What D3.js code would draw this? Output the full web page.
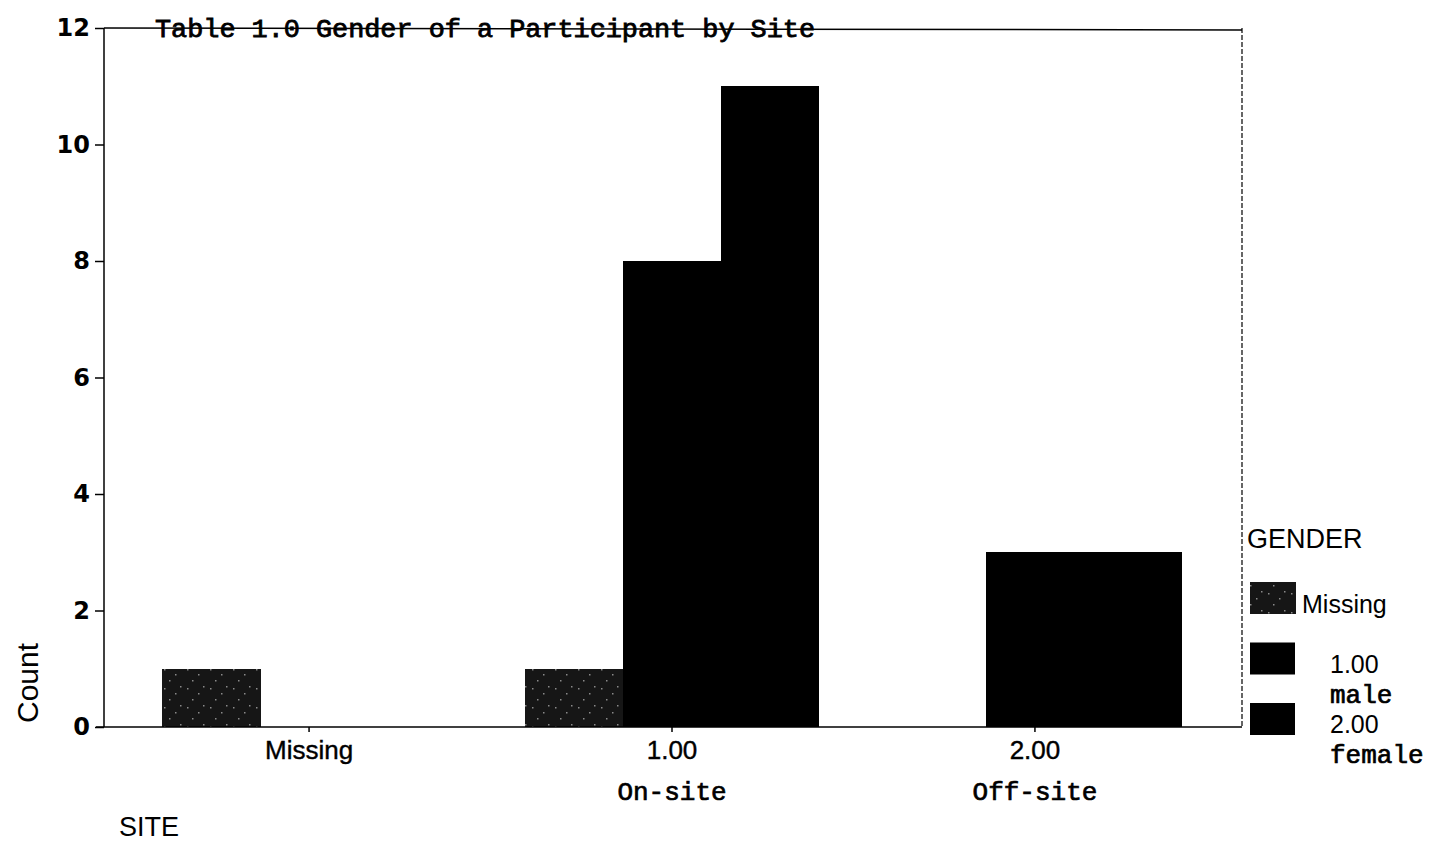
<!DOCTYPE html>
<html>
<head>
<meta charset="utf-8">
<script src="https://cdn.jsdelivr.net/npm/d3@7"></script>
<style>
  html, body { margin: 0; padding: 0; background: #fff; }
  svg { display: block; }
</style>
</head>
<body>
<svg id="chart" width="1441" height="843"></svg>
<script>
// ---- data ----
const sites = ["Missing", "1.00", "2.00"];
const siteSubLabels = ["", "On-site", "Off-site"];
const genders = ["Missing", "1.00", "2.00"];
const genderSubLabels = ["", "male", "female"];
const countMissingGender = [1, 1, 0];
const countMale = [0, 8, 3];
const countFemale = [0, 11, 3];
const yTicks = [0, 2, 4, 6, 8, 10, 12];
const titleText = "Table 1.0 Gender of a Participant by Site";

const seriesByGender = [countMissingGender, countMale, countFemale];
const rows = [];
sites.forEach((s, i) => genders.forEach((g, j) => rows.push({ site: s, gender: g, value: seriesByGender[j][i] })));

const svg = d3.select("#chart");
const plot = { left: 104, right: 1242, top: 28, bottom: 727 };
const mono = "'Liberation Mono', 'Courier New', monospace";
const sans = "'Liberation Sans', Arial, sans-serif";

const y = d3.scaleLinear().domain([0, 12]).range([plot.bottom, plot.top]);
const x0 = d3.scaleBand().domain(sites).range([plot.left, plot.right - 2]).paddingInner(0.19).paddingOuter(0.16);
const x1 = d3.scaleBand().domain(genders).range([0, x0.bandwidth()]);

// pattern for the "Missing" gender fill (dark, speckled)
const defs = svg.append("defs");
const pat = defs.append("pattern").attr("id", "speck").attr("patternUnits", "userSpaceOnUse")
  .attr("width", 23).attr("height", 19);
pat.append("rect").attr("width", 23).attr("height", 19).attr("fill", "#161616");
[[3, 4], [14, 9], [8, 15], [19, 2]].forEach(p =>
  pat.append("rect").attr("x", p[0]).attr("y", p[1]).attr("width", 1.5).attr("height", 1.5).attr("fill", "#8a8a8a"));

const fills = { "Missing": "url(#speck)", "1.00": "#000", "2.00": "#000" };

// bars
svg.append("g").attr("shape-rendering", "crispEdges")
  .selectAll("rect").data(rows.filter(d => d.value > 0)).join("rect")
  .attr("x", d => x0(d.site) + x1(d.gender))
  .attr("y", d => y(d.value))
  .attr("width", x1.bandwidth() + 0.5)
  .attr("height", d => y(0) - y(d.value))
  .attr("fill", d => fills[d.gender]);

// frame lines
svg.append("line").attr("x1", plot.left).attr("x2", plot.right).attr("y1", plot.top).attr("y2", plot.top + 2)
  .attr("stroke", "#000").attr("stroke-width", 1.5);
svg.append("line").attr("x1", plot.right).attr("x2", plot.right).attr("y1", plot.top).attr("y2", plot.bottom)
  .attr("stroke", "#000").attr("stroke-width", 1.2).attr("stroke-dasharray", "5,2");

// y axis
const yAxis = d3.axisLeft(y).tickValues(yTicks).tickSize(9).tickPadding(5);
const gy = svg.append("g").attr("transform", `translate(${plot.left},0)`).call(yAxis);
gy.select(".domain").attr("stroke", "#000").attr("stroke-width", 1.5).attr("d", `M0,${plot.top}V${plot.bottom}`);
gy.selectAll(".tick line").attr("stroke", "#000").attr("stroke-width", 1.5);
gy.selectAll(".tick text").attr("font-family", "'DejaVu Sans', sans-serif").attr("font-weight", "bold")
  .attr("font-size", 24).attr("fill", "#000");

// x axis
const xAxis = d3.axisBottom(x0).tickSize(5).tickPadding(8);
const gx = svg.append("g").attr("transform", `translate(0,${plot.bottom})`).call(xAxis);
gx.select(".domain").attr("stroke", "#000").attr("stroke-width", 1.5).attr("d", `M${plot.left - 8},0H${plot.right}`);
gx.selectAll(".tick line").attr("stroke", "#000").attr("stroke-width", 1.5);
gx.selectAll(".tick text").attr("font-family", sans)
  .attr("font-size", 26).attr("fill", "#000").attr("stroke", "#000").attr("stroke-width", 0.4)
  .attr("dy", "0.72em");
gx.selectAll(".tick").append("text")
  .text((d, i) => siteSubLabels[i])
  .attr("y", 73).attr("text-anchor", "middle")
  .attr("font-family", mono).attr("font-size", 26)
  .attr("fill", "#000").attr("stroke", "#000").attr("stroke-width", 0.7);

// title (sits on the top frame line)
svg.append("text").text(titleText)
  .attr("x", 155).attr("y", 37)
  .attr("font-family", mono)
  .attr("font-size", 25).attr("textLength", 660).attr("lengthAdjust", "spacingAndGlyphs")
  .attr("fill", "#000").attr("stroke", "#000").attr("stroke-width", 0.8);

// axis titles
svg.append("text").text("Count")
  .attr("transform", "translate(38,683) rotate(-90)")
  .attr("text-anchor", "middle")
  .attr("font-family", sans).attr("font-size", 30).attr("fill", "#000");
svg.append("text").text("SITE")
  .attr("x", 119).attr("y", 836)
  .attr("font-family", sans).attr("font-size", 27).attr("fill", "#000");

// legend
const lg = svg.append("g");
lg.append("text").text("GENDER").attr("x", 1247).attr("y", 548)
  .attr("font-family", sans).attr("font-size", 27).attr("fill", "#000");
const legY = d3.scalePoint().domain(genders).range([582, 703]);
lg.selectAll("rect.sw").data(genders).join("rect").attr("class", "sw")
  .attr("x", 1250).attr("y", d => legY(d))
  .attr("width", (d, i) => i === 0 ? 46 : 45).attr("height", 32)
  .attr("fill", d => fills[d]);
lg.selectAll("text.num").data(genders).join("text").attr("class", "num")
  .text(d => d)
  .attr("x", (d, i) => i === 0 ? 1302 : 1330)
  .attr("y", (d, i) => legY(d) + (i === 0 ? 31 : 30))
  .attr("font-family", sans).attr("font-size", 25).attr("fill", "#000");
lg.selectAll("text.sub").data(genders.slice(1)).join("text").attr("class", "sub")
  .text((d, i) => genderSubLabels[i + 1])
  .attr("x", 1330).attr("y", d => legY(d) + 60)
  .attr("font-family", mono).attr("font-size", 26)
  .attr("fill", "#000").attr("stroke", "#000").attr("stroke-width", 0.7);
</script>
</body>
</html>
